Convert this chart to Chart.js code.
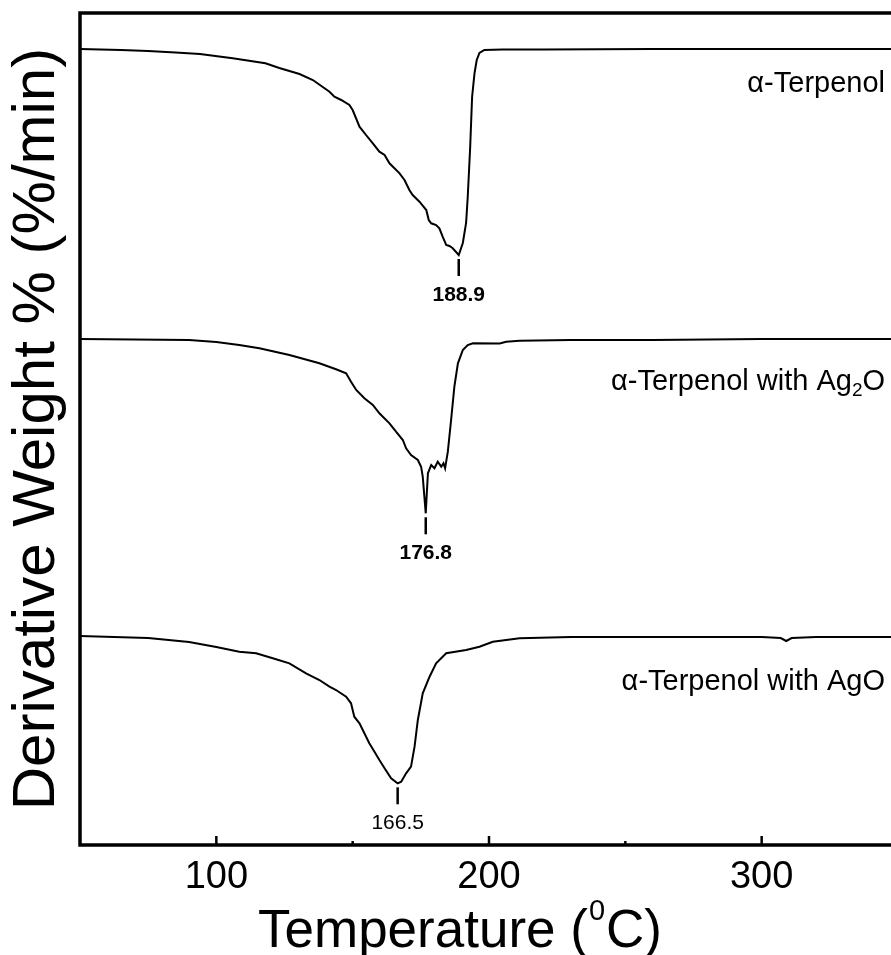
<!DOCTYPE html>
<html>
<head>
<meta charset="utf-8">
<script src="https://cdn.jsdelivr.net/npm/chart.js@4.4.0/dist/chart.umd.min.js"></script>
<style>
  html, body { margin: 0; padding: 0; background: #fff; overflow: hidden; }
</style>
</head>
<body>
<canvas id="dtg" width="900" height="955"></canvas>
<script>
// DTG curves; y is in arbitrary units, curves are stacked
const tempTerp = [50, 65, 75, 85, 94, 106, 118, 123.1, 130.5, 135.4, 141.5, 143.3, 145.8, 148.8, 150, 152.5, 154.9, 157.4, 159.8, 161.7, 163.5, 167.2, 169, 170.8, 172, 174.5, 177, 177.9, 178.8, 180.6, 181.8, 183, 184.3, 185.5, 186.7, 188.9, 190.4, 191.6, 192.2, 193.1, 193.8, 194.7, 195.5, 196.5, 198.3, 205, 220, 260, 300, 350];
const dtgTerp  = [796, 795, 794, 792.5, 791, 786.7, 781.7, 777, 771, 765, 753.3, 748.3, 745, 740, 735, 718.3, 710, 701.7, 693.3, 690, 681.7, 671.7, 665, 655, 650, 643.3, 635, 625, 621.7, 620, 616.7, 608.3, 600, 599, 596.7, 590, 602, 622, 648, 698, 748, 772, 785, 792, 795, 795.5, 795.5, 796, 796, 796];

const tempAg2O = [50, 90, 100, 108.4, 115.8, 126.8, 137.8, 143.9, 147.6, 149.4, 151.3, 154.3, 157.4, 159.8, 163.5, 165.9, 168.4, 169.6, 171.4, 173.9, 175.1, 175.7, 176.3, 176.8, 177.2, 177.6, 178.8, 180, 181.2, 182.5, 183.3, 183.9, 184.9, 186.1, 187.3, 188.6, 190.4, 192.2, 194.1, 203.9, 206.3, 211.2, 230, 260, 300, 350];
const dtgAg2O  = [506, 505, 503, 500, 496.7, 490, 481.7, 475.7, 471.7, 463.3, 455, 446.7, 440, 431.7, 421.7, 413.3, 405, 396.7, 390, 385, 378.3, 368.3, 348.3, 331.7, 352, 371.7, 380, 376.7, 383.3, 378.3, 381.7, 376.7, 393.3, 425, 458.3, 481.7, 495, 500, 501.7, 501.5, 503.3, 504.3, 505, 505, 506, 506];

const tempAgO = [50, 75, 90, 100, 108.4, 114.6, 120.7, 126.8, 132.9, 137.8, 141.5, 143.9, 147.6, 149.4, 150.6, 152.5, 154.3, 156.1, 158, 159.8, 161.7, 164.1, 166.5, 167.8, 169.6, 171.4, 172.7, 173.9, 175.7, 178.2, 180.6, 184.3, 191.6, 196.5, 201.4, 211.2, 230, 300, 307, 309, 311, 320, 350];
const dtgAgO  = [209, 207, 203, 198, 193.3, 191.7, 186.7, 181.7, 171.7, 165, 158.3, 155, 148.3, 141.7, 128.3, 121.7, 111.7, 101.7, 93.3, 85, 76.7, 66.7, 61.7, 63.3, 71.7, 78.3, 98.3, 125, 151.7, 168.3, 181.7, 191.7, 195, 198.3, 203.3, 206.7, 208, 208, 207, 204, 207, 208, 208];

const seriesNames = ['α-Terpenol', 'α-Terpenol with Ag_2O', 'α-Terpenol with AgO'];
const peakTemps = [188.9, 176.8, 166.5];
const peakLabels = ['188.9', '176.8', '166.5'];
const xTicks = [100, 200, 300];
const xMinorTicks = [150, 250];

const FONT = '"Liberation Sans", Arial, sans-serif';
const temps = [tempTerp, tempAg2O, tempAgO];
const values = [dtgTerp, dtgAg2O, dtgAgO];

// frame, inward ticks, peak markers and curve names
const decor = {
  id: 'decor',
  afterDraw(chart) {
    const { ctx, chartArea: a, scales: { x, y } } = chart;
    ctx.save();
    ctx.strokeStyle = '#000';
    ctx.fillStyle = '#000';
    ctx.lineWidth = 3.5;
    ctx.beginPath();
    ctx.moveTo(a.right + 5, a.top);
    ctx.lineTo(a.left, a.top);
    ctx.lineTo(a.left, a.bottom);
    ctx.lineTo(a.right + 5, a.bottom);
    ctx.stroke();

    ctx.lineWidth = 2.5;
    xTicks.forEach(v => {
      const px = x.getPixelForValue(v);
      ctx.beginPath(); ctx.moveTo(px, a.bottom); ctx.lineTo(px, a.bottom - 9); ctx.stroke();
    });
    xMinorTicks.forEach(v => {
      const px = x.getPixelForValue(v);
      ctx.beginPath(); ctx.moveTo(px, a.bottom); ctx.lineTo(px, a.bottom - 4); ctx.stroke();
    });

    // peak markers
    ctx.textAlign = 'center';
    ctx.textBaseline = 'middle';
    peakTemps.forEach((t, i) => {
      const px = x.getPixelForValue(t);
      const py = y.getPixelForValue(Math.min(...values[i]));
      ctx.lineWidth = 2.5;
      ctx.beginPath(); ctx.moveTo(px, py + 4); ctx.lineTo(px, py + 21); ctx.stroke();
      ctx.font = (i < 2 ? 'bold ' : '') + '21px ' + FONT;
      ctx.fillText(peakLabels[i], px, py + 40);
    });

    // curve names, right aligned, with subscripts marked by _
    const nameOffset = [33, 41, 43];
    const rightEdge = 885;
    seriesNames.forEach((name, i) => {
      const vals = values[i];
      const cy = y.getPixelForValue(vals[vals.length - 1]) + nameOffset[i];
      const parts = name.split(/_(\d)/);
      const sizes = parts.map((p, k) => k % 2 ? 19 : 29);
      let w = 0;
      parts.forEach((p, k) => { ctx.font = sizes[k] + 'px ' + FONT; w += ctx.measureText(p).width; });
      let cx = rightEdge - w;
      ctx.textAlign = 'left';
      ctx.textBaseline = 'alphabetic';
      parts.forEach((p, k) => {
        ctx.font = sizes[k] + 'px ' + FONT;
        ctx.fillText(p, cx, cy + 10 + (k % 2 ? 6 : 0));
        cx += ctx.measureText(p).width;
      });
    });

    // x axis title with superscript 0
    ctx.textAlign = 'left';
    ctx.textBaseline = 'alphabetic';
    let tx = 258;
    const base = 947;
    ctx.font = '53px ' + FONT;
    ctx.fillText('Temperature (', tx, base);
    tx += ctx.measureText('Temperature (').width;
    ctx.font = '29px ' + FONT;
    ctx.fillText('0', tx + 1, base - 27);
    tx += ctx.measureText('0').width + 2;
    ctx.font = '53px ' + FONT;
    ctx.fillText('C)', tx, base);
    ctx.restore();
  }
};

new Chart(document.getElementById('dtg'), {
  type: 'line',
  data: {
    datasets: temps.map((ts, i) => ({
      label: seriesNames[i],
      data: ts.map((t, k) => ({ x: t, y: values[i][k] })),
      borderColor: '#000',
      borderWidth: 2,
      pointRadius: 0,
      tension: 0,
      fill: false
    }))
  },
  options: {
    responsive: false,
    animation: false,
    layout: { padding: { top: 13, right: 2, left: 0, bottom: 0 } },
    plugins: { legend: { display: false }, tooltip: { enabled: false } },
    scales: {
      x: {
        type: 'linear',
        min: 50,
        max: 350,
        afterBuildTicks: s => { s.ticks = xTicks.map(v => ({ value: v })); },
        afterFit: s => { s.height = 110; },
        grid: { display: false },
        border: { display: false },
        ticks: { color: '#000', padding: 2, maxRotation: 0, font: { family: FONT, size: 38 } }
      },
      y: {
        min: 0,
        max: 832,
        afterFit: s => { s.width = 80; },
        grid: { display: false },
        border: { display: false },
        ticks: { display: false },
        title: {
          display: true,
          text: 'Derivative Weight % (%/min)',
          color: '#000',
          padding: { top: 1, bottom: 0 },
          font: { family: FONT, size: 60 }
        }
      }
    }
  },
  plugins: [decor]
});
</script>
</body>
</html>
